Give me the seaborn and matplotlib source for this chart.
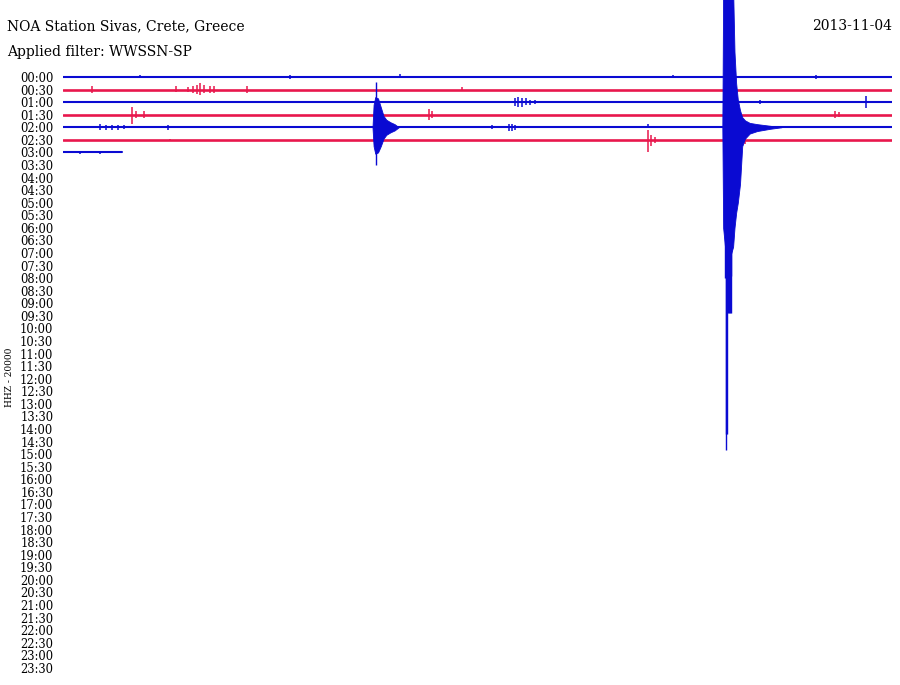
import numpy as np
import matplotlib
matplotlib.use("Agg")
import matplotlib.pyplot as plt
import pandas as pd
import seaborn as sns

# Helicorder page: one trace per 30 minutes, amplitudes in trace spacings (1 = 20000 counts)
HOUR_LABELS = ["00:00", "00:30", "01:00", "01:30", "02:00", "02:30", "03:00", "03:30",
               "04:00", "04:30", "05:00", "05:30", "06:00", "06:30", "07:00", "07:30",
               "08:00", "08:30", "09:00", "09:30", "10:00", "10:30", "11:00", "11:30",
               "12:00", "12:30", "13:00", "13:30", "14:00", "14:30", "15:00", "15:30",
               "16:00", "16:30", "17:00", "17:30", "18:00", "18:30", "19:00", "19:30",
               "20:00", "20:30", "21:00", "21:30", "22:00", "22:30", "23:00", "23:30"]

# minutes recorded in each trace (data stops early in the 03:00 trace)
TRACE_END = [30, 30, 30, 30, 30, 30, 2.13]

# small bursts: trace index, minute in trace, amplitude up, amplitude down
SPIKE_TRACE = [0, 0, 0, 0, 0,
               1, 1, 1, 1, 1, 1, 1, 1, 1, 1, 1,
               2, 2, 2, 2, 2, 2, 2, 2,
               3, 3, 3, 3, 3, 3, 3,
               4, 4, 4, 4, 4, 4, 4, 4, 4, 4, 4,
               5, 5, 5, 5, 5,
               6, 6]
SPIKE_MIN = [2.79, 8.21, 12.20, 22.07, 27.25,
             1.05, 4.09, 4.52, 4.70, 4.85, 4.96, 5.10, 5.32, 5.46, 6.66, 14.44,
             16.36, 16.47, 16.61, 16.76, 16.90, 17.08, 25.22, 29.06,
             2.50, 2.64, 2.93, 13.24, 13.35, 27.94, 28.08,
             1.34, 1.56, 1.77, 1.99, 2.21, 3.80, 15.52, 16.14, 16.25, 16.36, 21.17,
             3.87, 21.17, 21.28, 21.42, 24.68,
             0.62, 1.34]
SPIKE_UP = [0.12, 0.12, 0.2, 0.15, 0.15,
            0.25, 0.25, 0.2, 0.3, 0.4, 0.5, 0.35, 0.3, 0.3, 0.3, 0.2,
            0.3, 0.4, 0.3, 0.3, 0.2, 0.15, 0.15, 0.45,
            0.65, 0.3, 0.3, 0.45, 0.3, 0.3, 0.2,
            0.3, 0.2, 0.2, 0.2, 0.15, 0.2, 0.15, 0.3, 0.3, 0.2, 0.3,
            0.1, 0.8, 0.4, 0.25, 0.3,
            0.1, 0.1]
SPIKE_DOWN = [0.1, 0.12, 0.1, 0.1, 0.15,
              0.25, 0.2, 0.2, 0.3, 0.35, 0.45, 0.3, 0.25, 0.3, 0.25, 0.15,
              0.3, 0.4, 0.35, 0.25, 0.2, 0.15, 0.15, 0.5,
              0.75, 0.3, 0.3, 0.45, 0.3, 0.3, 0.2,
              0.25, 0.2, 0.2, 0.2, 0.15, 0.2, 0.1, 0.3, 0.3, 0.2, 0.05,
              0.1, 0.95, 0.5, 0.25, 0.3,
              0.1, 0.1]

# local event in the 02:00 trace
EVENT_A_MIN = [11.20, 11.24, 11.30, 11.40, 11.50, 11.60, 11.70, 11.85, 12.00, 12.15]
EVENT_A_UP = [0, 1.8, 2.4, 2.3, 1.6, 0.9, 0.6, 0.4, 0.25, 0]
EVENT_A_DOWN = [0, 1.5, 2.1, 2.0, 1.5, 0.9, 0.6, 0.4, 0.25, 0]
EVENT_A_PEAK = (11.33, 3.6, 3.0)

# large earthquake in the 02:00 trace
QUAKE_MIN = [23.86, 23.89, 24.00, 24.12, 24.25, 24.30, 24.36, 24.42, 24.50, 24.58,
             24.68, 24.85, 25.12, 25.59, 26.00]
QUAKE_UP = [0, 11, 11, 11, 11, 6.0, 3.5, 2.2, 1.35, 0.8, 0.55, 0.35, 0.25, 0.12, 0]
QUAKE_DOWN = [0, 8, 10.5, 10.5, 9.5, 8, 6.8, 6, 4.5, 1.5, 0.9, 0.5, 0.3, 0.12, 0]
QUAKE_SPIKE_MIN = [23.97, 23.99, 24.01, 24.03, 24.07, 24.10, 24.12, 24.16, 24.19]
QUAKE_SPIKE_DOWN = [12.0, 24.4, 25.7, 24.4, 14.8, 14.8, 14.8, 14.8, 11.8]

BLUE = "#0a0ad2"
RED = "#e8174c"

sns.set_theme(style="white")
plt.rcParams["font.family"] = ["DejaVu Serif"]
plt.rcParams["text.color"] = "black"
plt.rcParams["ytick.color"] = "black"

fig = plt.figure(figsize=(9, 6.85), dpi=100)
ax = fig.add_axes([63 / 900, 0, 829 / 900, 1])

for k, end in enumerate(TRACE_END):
    color = BLUE if k % 2 == 0 else RED
    lw = 1.5 if k % 2 == 0 else 1.9
    sns.lineplot(x=[0, end], y=[k, k], color=color, lw=lw, ax=ax, zorder=2)

spikes = pd.DataFrame({"trace": SPIKE_TRACE, "minute": SPIKE_MIN,
                       "up": SPIKE_UP, "down": SPIKE_DOWN})
for _, r in spikes.iterrows():
    color = BLUE if r["trace"] % 2 == 0 else RED
    ax.vlines(r["minute"], r["trace"] - r["up"], r["trace"] + r["down"],
              color=color, lw=1.1, zorder=3)

# event A
base = 4
ax.fill_between(EVENT_A_MIN, base - np.array(EVENT_A_UP), base + np.array(EVENT_A_DOWN),
                color=BLUE, lw=0.6, zorder=4)
ax.vlines(EVENT_A_PEAK[0], base - EVENT_A_PEAK[1], base + EVENT_A_PEAK[2],
          color=BLUE, lw=1.0, zorder=4)

# quake
ax.fill_between(QUAKE_MIN, base - np.array(QUAKE_UP), base + np.array(QUAKE_DOWN),
                color=BLUE, lw=0.6, zorder=5)
ax.vlines(QUAKE_SPIKE_MIN, base, base + np.array(QUAKE_SPIKE_DOWN),
          color=BLUE, lw=1.0, zorder=5)

ax.set_xlim(0, 30)
ax.set_ylim(48.37, -6.126)
ax.set_yticks(range(len(HOUR_LABELS)))
ax.set_yticklabels(HOUR_LABELS, fontsize=8.3)
ax.set_xticks([])
ax.tick_params(axis="y", length=0, pad=7)
for s in ax.spines.values():
    s.set_visible(False)
ax.set_xlabel("")
ax.set_ylabel("")
ax.patch.set_alpha(0)

fig.text(7 / 900, 1 - 26 / 685, "NOA Station Sivas, Crete, Greece", fontsize=10,
         va="center", ha="left")
fig.text(7 / 900, 1 - 52 / 685, "Applied filter: WWSSN-SP", fontsize=10,
         va="center", ha="left")
fig.text(892 / 900, 1 - 26 / 685, "2013-11-04", fontsize=10, va="center", ha="right")
fig.text(10 / 900, 1 - 377 / 685, "HHZ - 20000", fontsize=6.5, rotation=90,
         va="center", ha="center")

fig.savefig("out.png", dpi=100, facecolor="white")
